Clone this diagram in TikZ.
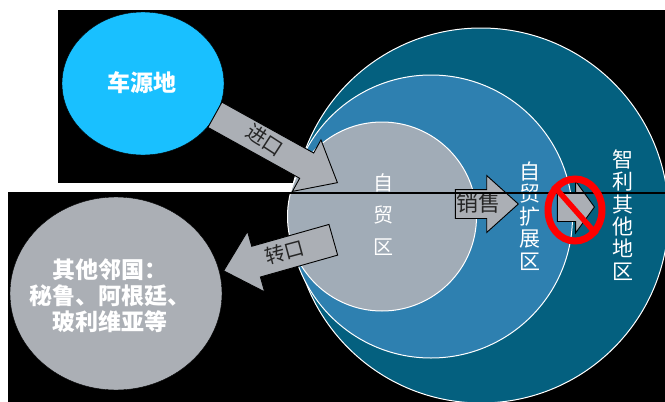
\documentclass[tikz,border=0pt]{standalone}
\usepackage{fontspec}
\usepackage{xcolor}
\usetikzlibrary{shapes.geometric,shapes.arrows}
\newfontfamily\cjkfont{Noto Sans CJK SC}
\newcommand{\shaft}[1]{\rule{0pt}{#1}}
\definecolor{zone-outer}{HTML}{04607F}
\definecolor{zone-middle}{HTML}{2E80B0}
\definecolor{zone-inner}{HTML}{A1ACB7}
\definecolor{source-blue}{HTML}{19C0FF}
\definecolor{arrow-grey}{HTML}{ABAFB5}
\tikzset{
    zone/.style = {circle, draw=white, line width=1pt, inner sep=0pt},
    place/.style = {ellipse, draw=black, inner sep=0pt},
    place-label/.style = {text=white, align=center, inner sep=0pt, font=\cjkfont\bfseries\fontsize{23}{26}\selectfont},
    zone-label/.style = {text=white, align=center, inner sep=0pt, font=\cjkfont\fontsize{21}{22.4}\selectfont},
    block-arrow/.style = {single arrow, draw=black, fill=arrow-grey, line width=0.9pt, inner sep=0pt, anchor=tip, minimum height=#1},
    arrow-label/.style = {inner sep=0pt, text=black!85, font=\cjkfont\fontsize{20}{24}\selectfont},
}
\begin{document}
\begin{tikzpicture}[x=1pt, y=-1pt]
\useasboundingbox (0,0) rectangle (665,402);
\fill[black] (58,10) rectangle (665,183);
\fill[black] (8,192) rectangle (665,402);
\begin{scope}
\clip (0,0) rectangle (665,402);
\node[zone, fill=zone-outer, minimum size=375pt] (outer) at (481,215.5) {};
\node[zone, fill=zone-middle, minimum size=283pt] (middle) at (431,216.5) {};
\node[zone, fill=zone-inner, minimum size=189pt] (inner) at (382,216.5) {};
\end{scope}
\node[place, fill=source-blue, minimum width=162pt, minimum height=143pt] (source) at (143,83.5) {};
\node[place, fill=arrow-grey, minimum width=212pt, minimum height=193pt] (neighbours) at (116,293.5) {};
\node[place-label] (source-label) at (142,83) {车源地};
\node[place-label] (neighbours-label) at (110,296) {其他邻国：\\秘鲁、阿根廷、\\玻利维亚等};
% block arrows
\node[block-arrow=140pt, single arrow head extend=15pt, single arrow tip angle=80, rotate=-29] (import) at (338,183) {\shaft{28pt}};
\node[block-arrow=114pt, single arrow head extend=15.5pt, single arrow tip angle=86, rotate=195.8] (transit) at (223,271) {\shaft{31pt}};
\node[block-arrow=63pt, single arrow head extend=14pt, single arrow tip angle=84] (sales) at (519,204) {\shaft{28pt}};
\node[block-arrow=37pt, single arrow head extend=11.5pt, single arrow tip angle=108] (banned) at (595,207) {\shaft{28pt}};
\node[arrow-label, rotate=-33] (import-label) at (265,140) {进口};
\node[arrow-label, rotate=15] (transit-label) at (285,252) {转口};
\node[arrow-label, font=\cjkfont\fontsize{22}{24}\selectfont] (sales-label) at (478,203) {销售};
% zone names
\node[zone-label, font=\cjkfont\fontsize{20}{32}\selectfont] (inner-label) at (383,215) {自\\贸\\区};
\node[zone-label] (middle-label) at (530,216) {自\\贸\\扩\\展\\区};
\node[zone-label] (outer-label) at (623,215) {智\\利\\其\\他\\地\\区};
% seam across the picture
\coordinate (seam-start) at (287,193);
\coordinate (seam-end) at (665,193);
\draw[black, line width=1.4pt] (seam-start) -- (seam-end);
% no-entry sign
\node[ellipse, draw=red, line width=7pt, inner sep=0pt, minimum width=54pt, minimum height=62pt] (ban) at (575,210) {};
\draw[red, line width=5.5pt] (ban.north west) -- (ban.south east);
\end{tikzpicture}
\end{document}
